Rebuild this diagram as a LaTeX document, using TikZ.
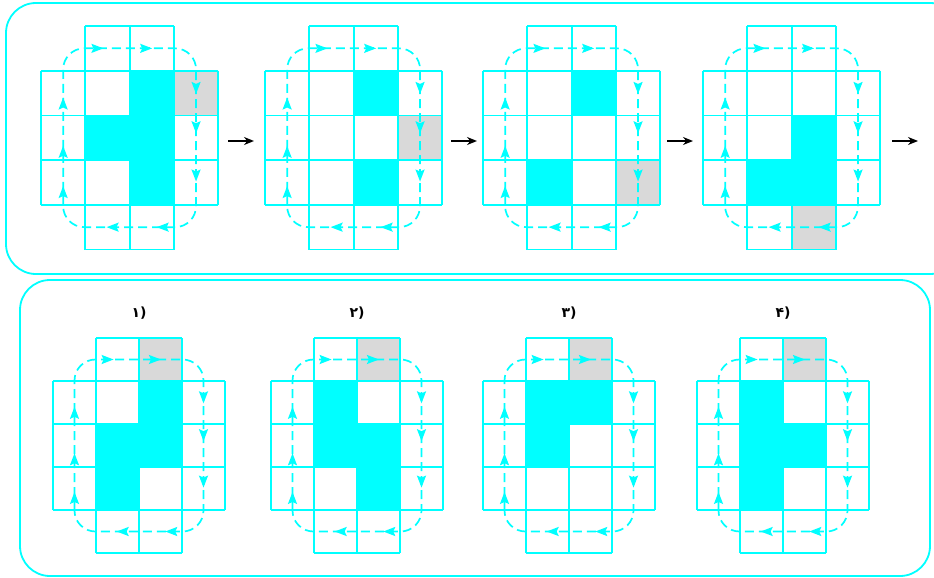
\documentclass[tikz,border=0pt]{standalone}
\usepackage{fontspec}
\newfontfamily\persianfont{DejaVu Sans}
\usetikzlibrary{arrows.meta}

\definecolor{boardcyan}{RGB}{0,255,255}
\definecolor{boardgray}{RGB}{217,217,217}

% one board: #1 = cyan cells, #2 = grey cell (col/row, row 0 on top)
\newcommand{\drawboard}[2]{%
    \foreach \c/\r in {#1} \fill[boardcyan] (\c,\r) rectangle ++(1,1);
    \foreach \c/\r in {#2} \fill[boardgray] (\c,\r) rectangle ++(1,1);
    \draw[gridline] (1,0) -- (3,0) (1,5) -- (3,5);
    \foreach \r in {1,...,4} \draw[gridline] (0,\r) -- (4,\r);
    \draw[gridline] (0,1) -- (0,4) (4,1) -- (4,4);
    \foreach \c in {1,2,3} \draw[gridline] (\c,0) -- (\c,5);
    % the dashed tour round the board, clockwise
    \draw[route] (0.5,4) -- (0.5,0.5) -- (3.5,0.5) -- (3.5,4.5) -- (0.5,4.5) -- (0.5,4);
    \foreach \r in {3.58, 2.68, 1.6} \draw[routetip] (0.5,\r+0.05) -- (0.5,\r);
    \foreach \c in {1.41, 2.51} \draw[routetip] (\c-0.05,0.5) -- (\c,0.5);
    \foreach \r in {1.52, 2.4, 3.48} \draw[routetip] (3.5,\r-0.05) -- (3.5,\r);
    \foreach \c in {2.61, 1.48} \draw[routetip] (\c+0.05,4.5) -- (\c,4.5);
}

\begin{document}
\begin{tikzpicture}[x=1pt, y=-1pt,
    gridline/.style={boardcyan, line width=1.8pt},
    frame/.style={boardcyan, line width=1.8pt, rounded corners=30pt},
    steparrow/.style={black, line width=1.8pt, -{Stealth[length=10pt, width=8pt]}},
    label/.style={font=\persianfont\bfseries\fontsize{14}{16}\selectfont},
    route/.style={boardcyan, line width=1.7pt, dash pattern=on 9pt off 5pt,
        rounded corners=21pt},
    routetip/.style={boardcyan, line width=1.7pt, -{Stealth[length=12pt, width=9pt, inset=2pt]}}]

    \useasboundingbox (0,0) rectangle (934,578);

    % the two frames
    \draw[frame] (6,3) rectangle (960,274);
    \draw[frame] (20,280) rectangle (930,576);

    % top row: the moves
    \begin{scope}[shift={(41,26)}, x=44.3pt, y=-44.7pt]
        \drawboard{2/1, 1/2, 2/2, 2/3}{3/1}
    \end{scope}
    \begin{scope}[shift={(265,26)}, x=44.3pt, y=-44.7pt]
        \drawboard{2/1, 2/3}{3/2}
    \end{scope}
    \begin{scope}[shift={(483,26)}, x=44.3pt, y=-44.7pt]
        \drawboard{2/1, 1/3}{3/3}
    \end{scope}
    \begin{scope}[shift={(703,26)}, x=44.3pt, y=-44.7pt]
        \drawboard{2/2, 1/3, 2/3}{2/4}
    \end{scope}

    \coordinate (a1) at (228,141);
    \coordinate (b1) at (254,141);
    \coordinate (a2) at (451,141);
    \coordinate (b2) at (477,141);
    \coordinate (a3) at (667,141);
    \coordinate (b3) at (693,141);
    \coordinate (a4) at (892,141);
    \coordinate (b4) at (918,141);
    \draw[steparrow] (a1) -- (b1);
    \draw[steparrow] (a2) -- (b2);
    \draw[steparrow] (a3) -- (b3);
    \draw[steparrow] (a4) -- (b4);

    % bottom row: the choices
    \begin{scope}[shift={(53,338)}, x=43pt, y=-43pt]
        \drawboard{2/1, 1/2, 2/2, 1/3}{2/0}
    \end{scope}
    \begin{scope}[shift={(271,338)}, x=43pt, y=-43pt]
        \drawboard{1/1, 1/2, 2/2, 2/3}{2/0}
    \end{scope}
    \begin{scope}[shift={(483,338)}, x=43pt, y=-43pt]
        \drawboard{1/1, 2/1, 1/2}{2/0}
    \end{scope}
    \begin{scope}[shift={(697,338)}, x=43pt, y=-43pt]
        \drawboard{1/1, 1/2, 2/2, 1/3}{2/0}
    \end{scope}

    \node[label] (c1) at (139,313) {۱)};
    \node[label] (c2) at (357,313) {۲)};
    \node[label] (c3) at (569,313) {۳)};
    \node[label] (c4) at (783,313) {۴)};

\end{tikzpicture}
\end{document}
